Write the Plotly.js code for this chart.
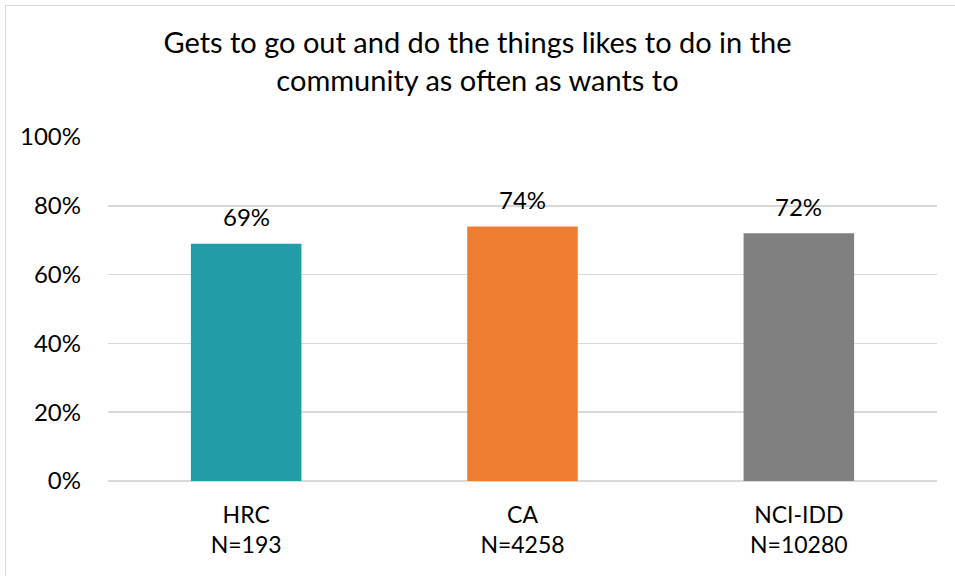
<!DOCTYPE html>
<html>
<head>
<meta charset="utf-8">
<script src="https://cdn.plot.ly/plotly-3.0.1.min.js"></script>
<style>
  html, body { margin: 0; padding: 0; background: #fff; overflow: hidden; }
  #wrap { position: relative; width: 955px; height: 576px; overflow: hidden; }
  #chart { width: 955px; height: 576px; }
  #frame { position: absolute; left: 5px; top: 5px; width: 960px; height: 600px;
           border: 1px solid #d9d9d9; pointer-events: none; }
</style>
</head>
<body>
<div id="wrap">
  <div id="chart"></div>
  <div id="frame"></div>
</div>
<script>
const categories = ["HRC", "CA", "NCI-IDD"];
const sampleSizes = ["N=193", "N=4258", "N=10280"];
const values = [0.69, 0.74, 0.72];
const barColors = ["#219DA8", "#ED7D31", "#808080"];
const yTicks = [0, 0.2, 0.4, 0.6, 0.8, 1.0];
const yTickLabels = ["0%", "20%", "40%", "60%", "80%", "100%"];

const FONT = "Lato, 'Open Sans', sans-serif";

const trace = {
  type: "bar",
  x: categories,
  y: values,
  marker: { color: barColors },
  width: 0.4,
  hoverinfo: "skip"
};

const annotations = categories.map((c, i) => ({
  x: c, y: values[i], xref: "x", yref: "y",
  text: Math.round(values[i] * 100) + "%",
  showarrow: false, yanchor: "middle", yshift: 27,
  font: { family: FONT, size: 24, color: "#000" }
}));

const layout = {
  width: 955, height: 576,
  margin: { l: 108, r: 18, t: 137, b: 95 },
  paper_bgcolor: "#fff", plot_bgcolor: "#fff",
  showlegend: false,
  title: {
    text: "Gets to go out and do the things likes to do in the<br>community as often as wants to",
    font: { family: FONT, size: 29, color: "#000" },
    x: 0.5, xanchor: "center", y: 0.908, yanchor: "middle", yref: "container"
  },
  xaxis: {
    type: "category",
    tickmode: "array",
    tickvals: categories,
    ticktext: categories.map((c, i) => c + "<br>" + sampleSizes[i]),
    tickfont: { family: FONT, size: 23, color: "#000" },
    showgrid: false, zeroline: false, showline: false, ticks: "",
    ticklabelstandoff: 18
  },
  yaxis: {
    range: [0, 1.0],
    tickmode: "array",
    tickvals: yTicks,
    ticktext: yTickLabels,
    tickfont: { family: FONT, size: 24, color: "#000" },
    showgrid: true, gridcolor: "#d9d9d9", gridwidth: 1.5,
    zeroline: true, zerolinecolor: "#d9d9d9", zerolinewidth: 1.5,
    showline: false, ticks: "", ticklabelstandoff: 26
  },
  annotations: annotations
};

Plotly.newPlot("chart", [trace], layout, { staticPlot: true, displayModeBar: false });
</script>
</body>
</html>
